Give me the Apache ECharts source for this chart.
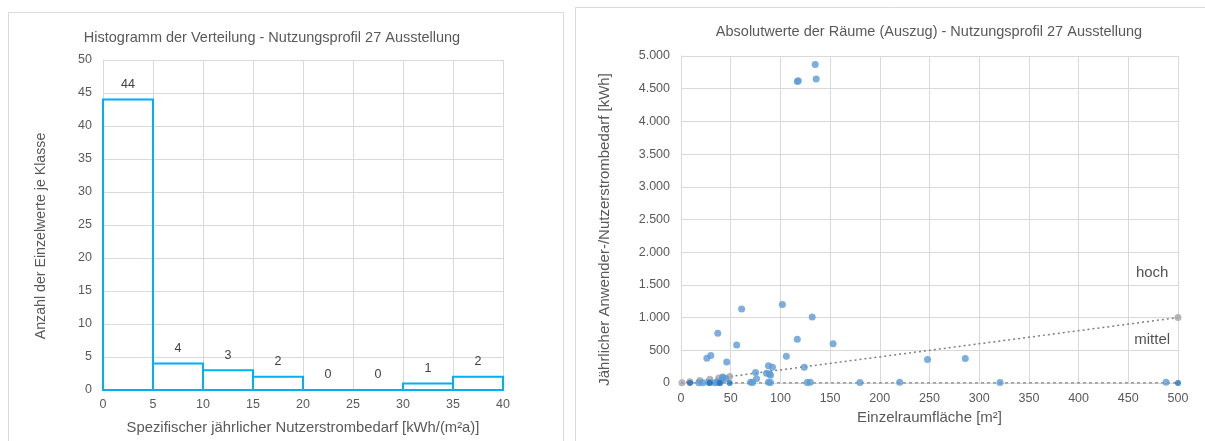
<!DOCTYPE html>
<html><head><meta charset="utf-8">
<script src="https://cdn.jsdelivr.net/npm/echarts@6/dist/echarts.min.js"></script>
<style>html,body{margin:0;padding:0;background:#fff}#c{width:1205px;height:441px}</style>
</head><body><div id="c"></div>
<script>
// Histogram data
const binStarts = [0, 5, 10, 15, 20, 25, 30, 35];
const binWidth = 5;
const binCounts = [44, 4, 3, 2, 0, 0, 1, 2];
const histXTicks = [0, 5, 10, 15, 20, 25, 30, 35, 40];

// Scatter data: [area m², kWh]
const roomsBlue = [
  [135,4870],[117,4610],[118,4620],[136,4650],[61,1130],[102,1200],[132,1010],[37,760],
  [117,670],[56,580],[153,600],[26,380],[30,420],[46,320],[106,410],[248,360],[286,375],
  [75,160],[76,65],[88,265],[92,240],[86,150],[90,120],[89,140],[124,240],[42,90],[45,70],[41,45],
  [18,5],[22,5],[28,8],[34,5],[36,10],[39,8],[70,10],[72,8],[88,10],[90,8],[127,8],[130,10],
  [180,8],[220,10],[321,8],[488,12]
];
const refMittel = [[1,2],[9,18],[19,38],[29,58],[38,76],[42,84],[49,98],[500,1000]];
const refNiedrig = [[9,0],[29,0],[39,0],[49,0],[500,0]];
const lineMittel = [[0,0],[500,1000]];
const lineNiedrig = [[0,0],[500,0]];
const zoneLabels = [{name:'hoch', value:[474,1690]}, {name:'mittel', value:[474,660]}];

const FONT = 'Liberation Sans, Arial, sans-serif';
const txt = '#595959';
const gridCol = '#d9d9d9';

const chart = echarts.init(document.getElementById('c'));
const fmtThousands = v => String(v).replace(/\B(?=(\d{3})+(?!\d))/g, '.');

chart.setOption({
  animation: false,
  textStyle: {fontFamily: FONT},
  graphic: [
    {type:'rect', shape:{x:8.5, y:12.5, width:555, height:440}, style:{fill:'none', stroke:gridCol, lineWidth:1}, z:-1},
    {type:'rect', shape:{x:575.5, y:7.5, width:640, height:440}, style:{fill:'none', stroke:gridCol, lineWidth:1}, z:-1},
    {type:'text', x:272, y:38, style:{text:'Histogramm der Verteilung - Nutzungsprofil 27 Ausstellung', font:'14.5px '+FONT, fill:txt, textAlign:'center', textVerticalAlign:'middle'}},
    {type:'text', x:929, y:32, style:{text:'Absolutwerte der Räume (Auszug) - Nutzungsprofil 27 Ausstellung', font:'14.5px '+FONT, fill:txt, textAlign:'center', textVerticalAlign:'middle'}}
  ],
  grid: [
    {left:103, top:60, width:400, height:330},
    {left:681, top:56, width:497, height:327}
  ],
  xAxis: [
    {gridIndex:0, type:'value', min:histXTicks[0], max:histXTicks[histXTicks.length-1], interval:5,
     name:'Spezifischer jährlicher Nutzerstrombedarf [kWh/(m²a)]', nameLocation:'middle', nameGap:30,
     nameTextStyle:{color:txt, fontSize:14.8},
     axisLine:{lineStyle:{color:gridCol}}, axisTick:{show:false},
     axisLabel:{color:txt, fontSize:12.5, margin:8},
     splitLine:{lineStyle:{color:gridCol}}},
    {gridIndex:1, type:'value', min:0, max:500, interval:50,
     name:'Einzelraumfläche [m²]', nameLocation:'middle', nameGap:23,
     nameTextStyle:{color:txt, fontSize:15},
     axisLine:{lineStyle:{color:gridCol}}, axisTick:{show:false},
     axisLabel:{color:txt, fontSize:12.5, margin:9},
     splitLine:{lineStyle:{color:gridCol}}}
  ],
  yAxis: [
    {gridIndex:0, type:'value', min:0, max:50, interval:5,
     name:'Anzahl der Einzelwerte je Klasse', nameLocation:'middle', nameGap:55,
     nameTextStyle:{color:txt, fontSize:14.2, padding:[0,22,0,0]},
     axisLine:{show:true, lineStyle:{color:gridCol}}, axisTick:{show:false},
     axisLabel:{color:txt, fontSize:12.5, margin:11},
     splitLine:{lineStyle:{color:gridCol}}},
    {gridIndex:1, type:'value', min:0, max:5000, interval:500,
     name:'Jährlicher Anwender-/Nutzerstrombedarf [kWh]', nameLocation:'middle', nameGap:69,
     nameTextStyle:{color:txt, fontSize:15, padding:[0,20,0,0]},
     axisLine:{show:true, lineStyle:{color:gridCol}}, axisTick:{show:false},
     axisLabel:{color:txt, fontSize:12.5, margin:11, formatter: fmtThousands},
     splitLine:{lineStyle:{color:gridCol}}}
  ],
  series: [
    {
      type:'custom', xAxisIndex:0, yAxisIndex:0,
      data: binStarts.map((s,i) => [s, s+binWidth, binCounts[i]]),
      encode:{x:[0,1], y:2},
      renderItem: function(params, api) {
        const x0 = api.value(0), x1 = api.value(1), c = api.value(2);
        const p0 = api.coord([x0, c]);
        const p1 = api.coord([x1, 0]);
        return {type:'group', children:[
          {type:'rect', shape:{x:p0[0], y:p0[1], width:p1[0]-p0[0], height:p1[1]-p0[1]},
           style:{fill:'none', stroke:'#00B0F0', lineWidth:2}},
          {type:'text', style:{text:String(c), x:(p0[0]+p1[0])/2, y:p0[1]-15, textAlign:'center', textVerticalAlign:'middle', fill:'#404040', font:'12.5px '+FONT}}
        ]};
      },
      z:3
    },
    {type:'line', xAxisIndex:1, yAxisIndex:1, data:lineNiedrig, symbol:'none',
     lineStyle:{color:'#404040', width:1, type:[3,3]}, z:2},
    {type:'line', xAxisIndex:1, yAxisIndex:1, data:lineMittel, symbol:'none',
     lineStyle:{color:'#7f7f7f', width:1.5, type:[2,3]}, z:2},
    {type:'scatter', xAxisIndex:1, yAxisIndex:1, data:refMittel, symbolSize:7,
     itemStyle:{color:'#A5A5A5'}, z:3},
    {type:'scatter', xAxisIndex:1, yAxisIndex:1, data:roomsBlue, symbolSize:7,
     itemStyle:{color:'#5B9BD5'}, z:4},
    {type:'scatter', xAxisIndex:1, yAxisIndex:1, data:refNiedrig, symbolSize:6,
     itemStyle:{color:'#1F6FBF'}, z:5},
    {type:'scatter', xAxisIndex:1, yAxisIndex:1, data:zoneLabels, symbolSize:0,
     label:{show:true, position:'inside', formatter:'{b}', color:'#262626', fontSize:15, fontFamily:FONT}, z:6}
  ]
});
</script></body></html>
